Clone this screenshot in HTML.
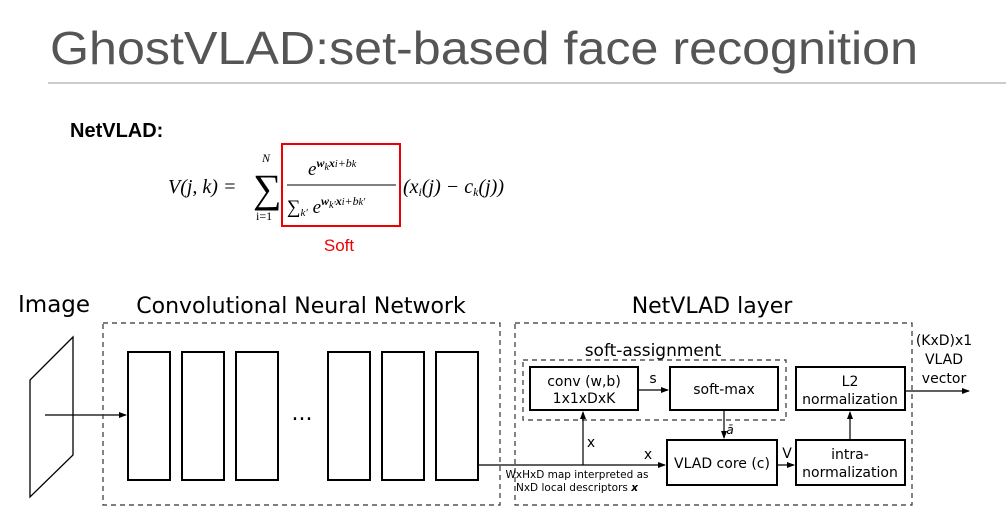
<!DOCTYPE html>
<html><head><meta charset="utf-8"><style>
body{margin:0;background:#fff;width:1006px;height:516px;overflow:hidden}
svg{display:block}
text{font-family:"DejaVu Sans","Liberation Sans",sans-serif}
</style></head><body>
<svg width="1006" height="516" viewBox="0 0 1006 516" xmlns="http://www.w3.org/2000/svg">
<defs><marker id="a" markerWidth="8" markerHeight="8" refX="7" refY="4" orient="auto" markerUnits="userSpaceOnUse"><path d="M0,1 L8,4 L0,7 Z" fill="#000"/></marker></defs>
<text x="50" y="64" font-size="46" fill="#555" textLength="868" lengthAdjust="spacingAndGlyphs" style="font-family:'Liberation Sans',sans-serif">GhostVLAD:set-based face recognition</text>
<line x1="48" y1="83" x2="1006" y2="83" stroke="#999" stroke-width="1"/>
<text x="70" y="137" font-size="20" font-weight="bold" style="font-family:'Liberation Sans',sans-serif">NetVLAD:</text>
<g>
<text x="168" y="193" font-size="20" font-style="italic" style="font-family:'Liberation Serif',serif">V(j, k) =</text>
<text x="253" y="202" font-size="40" style="font-family:'Liberation Serif',serif">∑</text>
<text x="262" y="162" font-size="12" font-style="italic" style="font-family:'Liberation Serif',serif">N</text>
<text x="256" y="220" font-size="12" style="font-family:'Liberation Serif',serif">i=1</text>
<text x="308" y="175" font-size="19" font-style="italic" style="font-family:'Liberation Serif',serif">e<tspan font-size="12" dy="-8" font-weight="bold">w</tspan><tspan font-size="10" dy="3">k</tspan><tspan font-size="12" dy="-3" font-weight="bold">x</tspan><tspan font-size="10">i</tspan><tspan font-size="12">+b</tspan><tspan font-size="10">k</tspan></text>
<line x1="287" y1="185" x2="396" y2="185" stroke="#000" stroke-width="1"/>
<text x="287" y="213" font-size="19" font-style="italic" style="font-family:'Liberation Serif',serif">∑<tspan font-size="11" dy="3">k′</tspan><tspan dy="-3"> e</tspan><tspan font-size="12" dy="-8" font-weight="bold">w</tspan><tspan font-size="10" dy="3">k′</tspan><tspan font-size="12" dy="-3" font-weight="bold">x</tspan><tspan font-size="10">i</tspan><tspan font-size="12">+b</tspan><tspan font-size="10">k′</tspan></text>
<text x="403" y="193" font-size="20" font-style="italic" style="font-family:'Liberation Serif',serif">(x<tspan font-size="12" dy="3">i</tspan><tspan dy="-3">(j) − c</tspan><tspan font-size="12" dy="3">k</tspan><tspan dy="-3">(j))</tspan></text>
</g>
<rect x="282" y="144" width="118" height="82" fill="none" stroke="#e00" stroke-width="2"/>
<text x="339" y="251" font-size="17" fill="#e00" text-anchor="middle" style="font-family:'Liberation Sans',sans-serif">Soft</text>

<text x="18" y="312" font-size="23">Image</text>
<polygon points="73,337 73,455 30,497 30,380" fill="none" stroke="#000" stroke-width="1.3"/>
<line x1="45" y1="415" x2="126" y2="415" stroke="#000" stroke-width="1.2" marker-end="url(#a)"/>

<text x="301" y="313" font-size="22" text-anchor="middle">Convolutional Neural Network</text>
<rect x="103" y="323" width="397" height="182" fill="none" stroke="#333" stroke-width="1.2" stroke-dasharray="5,4"/>
<g fill="none" stroke="#000" stroke-width="2">
<rect x="128" y="352" width="42" height="128"/><rect x="182" y="352" width="42" height="128"/><rect x="236" y="352" width="42" height="128"/>
<rect x="328" y="352" width="42" height="128"/><rect x="382" y="352" width="42" height="128"/><rect x="436" y="352" width="42" height="128"/>
</g>
<text x="302" y="420" font-size="22" text-anchor="middle">...</text>

<text x="712" y="313" font-size="22" text-anchor="middle">NetVLAD layer</text>
<rect x="515" y="323" width="397" height="182" fill="none" stroke="#333" stroke-width="1.2" stroke-dasharray="5,4"/>
<text x="653" y="356" font-size="17" text-anchor="middle">soft-assignment</text>
<rect x="523" y="360" width="263" height="60" fill="none" stroke="#333" stroke-width="1.2" stroke-dasharray="5,4"/>
<g fill="none" stroke="#000" stroke-width="2">
<rect x="530" y="367" width="108" height="43"/><rect x="670" y="367" width="108" height="43"/><rect x="796" y="367" width="109" height="43"/>
<rect x="667" y="440" width="110" height="45"/><rect x="796" y="440" width="109" height="45"/>
</g>
<g font-size="14" text-anchor="middle">
<text x="584" y="386">conv (w,b)</text><text x="584" y="403">1x1xDxK</text>
<text x="724" y="394">soft-max</text>
<text x="850" y="386">L2</text><text x="850" y="404">normalization</text>
<text x="722" y="468">VLAD core (c)</text>
<text x="850" y="459">intra-</text><text x="850" y="477">normalization</text>
<text x="944" y="345">(KxD)x1</text><text x="944" y="364">VLAD</text><text x="944" y="383">vector</text>
<text x="653" y="383">s</text><text x="591" y="447">x</text><text x="648" y="459">x</text><text x="787" y="458">V</text>
<text x="730" y="434" font-size="12" font-style="italic">ā</text>
</g>
<g font-size="10.5" text-anchor="middle">
<text x="577" y="478">WxHxD map interpreted as</text>
<text x="577" y="491">NxD local descriptors <tspan font-weight="bold" font-style="italic">x</tspan></text>
</g>
<g stroke="#000" stroke-width="1.2" fill="none">
<line x1="478" y1="465" x2="665" y2="465" marker-end="url(#a)"/>
<line x1="583" y1="465" x2="583" y2="412" marker-end="url(#a)"/>
<line x1="638" y1="390" x2="668" y2="390" marker-end="url(#a)"/>
<line x1="724" y1="410" x2="724" y2="438" marker-end="url(#a)"/>
<line x1="777" y1="465" x2="794" y2="465" marker-end="url(#a)"/>
<line x1="850" y1="440" x2="850" y2="412" marker-end="url(#a)"/>
<line x1="905" y1="391" x2="969" y2="391" marker-end="url(#a)"/>
</g>
</svg>
</body></html>
